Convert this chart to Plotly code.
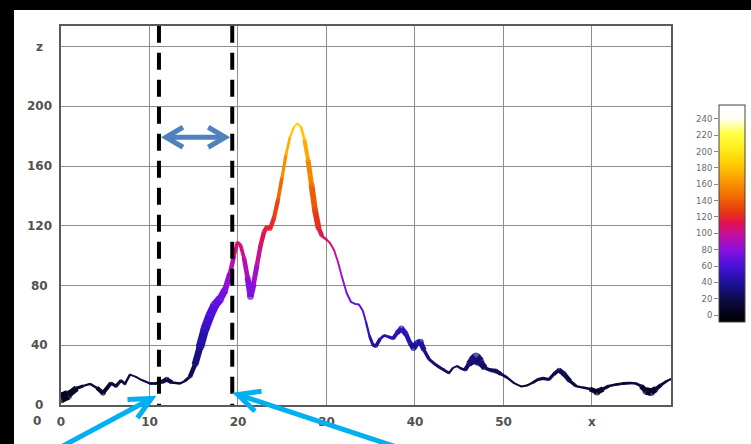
import math
import plotly.graph_objects as go

# ---------------- ribbon profile (x, height z, ribbon thickness in z units) ----------------
x_pos = [
    0.00, 0.79, 1.77, 2.49, 3.28, 4.07, 4.75, 5.65, 6.21, 6.78,
    7.23, 7.80, 8.47, 9.12, 10.06, 10.73, 11.38, 11.94, 12.54, 13.45,
    14.01, 14.58, 15.14, 15.71, 16.27, 16.84, 17.40, 17.97, 18.53, 19.10,
    19.55, 19.94, 20.28, 20.68, 21.07, 21.41, 21.75, 22.15, 22.54, 22.94,
    23.28, 23.62, 24.07, 24.52, 24.97, 25.42, 25.88, 26.33, 26.72, 27.12,
    27.51, 27.91, 28.31, 28.70, 29.10, 29.49, 30.06, 30.40, 30.85, 31.30,
    31.75, 32.28, 32.77, 33.22, 33.67, 34.12, 34.46, 34.86, 35.25, 35.59,
    36.05, 36.50, 37.06, 37.51, 37.97, 38.47, 38.98, 39.44, 39.83, 40.23,
    40.62, 41.02, 41.58, 42.15, 42.71, 43.28, 43.84, 44.29, 44.75, 45.20,
    45.65, 46.10, 46.44, 46.89, 47.34, 47.91, 48.47, 49.15, 49.72, 50.40,
    51.19, 51.98, 52.66, 53.33, 53.90, 54.46, 55.14, 55.71, 56.27, 56.84,
    57.51, 58.19, 58.98, 59.77, 60.56, 61.24, 61.92, 62.71, 63.50, 64.29,
    64.97, 65.54, 66.10, 66.67, 67.23, 67.80, 68.47, 68.93,
]
z_val = [
    4.8, 6.7, 11.2, 12.7, 14.1, 11.4, 8.0, 14.7, 12.7, 16.4,
    14.1, 20.4, 18.8, 16.7, 14.4, 14.4, 15.4, 17.1, 15.1, 14.4,
    16.1, 19.0, 27.0, 39.0, 51.0, 60.0, 67.0, 71.0, 77.0, 88.0,
    100.0, 108.8, 107.2, 98.5, 85.7, 72.5, 81.0, 93.8, 106.5, 115.9,
    119.2, 117.9, 125.3, 137.3, 152.1, 167.5, 179.5, 186.2, 188.6, 186.2,
    177.5, 164.1, 147.4, 130.6, 118.6, 113.2, 110.5, 108.5, 103.8, 95.8,
    85.7, 75.0, 69.0, 67.7, 67.3, 63.0, 55.6, 46.2, 40.2, 39.5,
    44.2, 46.6, 45.5, 44.5, 48.2, 51.2, 47.6, 41.5, 38.2, 41.5,
    42.2, 36.8, 30.8, 27.8, 25.5, 23.4, 21.4, 24.8, 26.1, 24.4,
    23.4, 27.5, 29.5, 31.5, 28.8, 24.8, 23.4, 22.8, 20.8, 18.4,
    14.7, 12.4, 13.1, 15.1, 17.1, 17.8, 17.1, 20.8, 23.4, 20.8,
    16.1, 12.7, 11.7, 10.7, 8.7, 10.7, 12.7, 13.7, 14.4, 14.7,
    14.4, 12.7, 9.4, 8.7, 10.7, 13.4, 16.1, 17.4,
]
band = [
    7.4, 6.0, 2.7, 1.7, 1.3, 2.0, 3.7, 1.7, 2.7, 1.7,
    2.0, 1.3, 1.3, 1.3, 1.7, 2.0, 2.3, 3.7, 2.0, 1.3,
    1.7, 2.3, 3.7, 5.4, 6.0, 6.0, 6.0, 5.4, 4.4, 3.4,
    2.7, 2.3, 2.3, 2.7, 3.4, 4.4, 3.7, 3.0, 3.0, 3.0,
    3.0, 3.0, 3.0, 2.7, 2.3, 2.0, 1.7, 1.3, 1.3, 1.3,
    2.3, 3.0, 3.7, 4.0, 3.7, 2.3, 1.3, 1.3, 1.3, 1.3,
    1.3, 1.3, 1.3, 1.3, 1.3, 1.3, 1.3, 1.7, 2.3, 2.7,
    2.0, 1.7, 2.0, 2.3, 3.0, 4.0, 3.4, 2.7, 4.0, 4.0,
    4.4, 2.7, 2.0, 2.0, 2.0, 2.0, 1.7, 1.3, 1.3, 1.7,
    2.0, 3.7, 5.4, 7.4, 6.0, 2.7, 2.0, 3.4, 2.0, 1.7,
    1.3, 1.3, 1.3, 1.7, 2.0, 2.3, 2.0, 2.3, 3.0, 3.7,
    2.7, 1.7, 1.3, 2.0, 4.7, 2.7, 1.7, 1.7, 2.0, 1.7,
    1.7, 2.3, 4.7, 5.4, 3.4, 2.0, 1.7, 1.3,
]

# window boundaries and the level of the span arrow
guide_x = [11.07, 19.35]
span_z = 179.3

# axis ticks
x_ticks = [0, 10, 20, 30, 40, 50, 60]
x_tick_text = ["0", "10", "20", "30", "40", "50", "x"]
z_ticks = [0, 40, 80, 120, 160, 200, 240]
z_tick_text = ["0", "40", "80", "120", "160", "200", "z"]
cbar_ticks = [0, 20, 40, 60, 80, 100, 120, 140, 160, 180, 200, 220, 240]

# palette: value -> colour
pal_vals = [-8.5, 0, 20, 40, 60, 80, 100, 112, 125, 145, 165, 185, 205, 222, 240, 257]
pal_cols = ["#000000", "#030210", "#0e0b4c", "#1d129c", "#4a10dc", "#8a10e0",
            "#c8109a", "#e01052", "#e83416", "#f26a00", "#fa9c00", "#ffcc00",
            "#ffee20", "#ffff44", "#fffff2", "#ffffff"]

# ---------------- layout geometry (pixels) ----------------
W, H = 751, 444
PLOT_L, PLOT_R, PLOT_T, PLOT_B = 61, 671, 25.7, 405
X_RANGE = [0, 68.93]
Z_RANGE = [0, 254]
CB_L, CB_W, CB_T, CB_B = 719, 26, 105, 322

px_per_x = (PLOT_R - PLOT_L) / (X_RANGE[1] - X_RANGE[0])
px_per_z = (PLOT_B - PLOT_T) / (Z_RANGE[1] - Z_RANGE[0])


def to_px(x, z):
    return (PLOT_L + (x - X_RANGE[0]) * px_per_x,
            PLOT_B - (z - Z_RANGE[0]) * px_per_z)


def pp(px, py):
    """pixel -> paper fraction (margins are zero, so paper == figure)"""
    return px / W, 1 - py / H


def hex_rgb(h):
    h = h.lstrip("#")
    return tuple(int(h[i:i + 2], 16) for i in (0, 2, 4))


def color_at(v):
    v = min(max(v, pal_vals[0]), pal_vals[-1])
    for i in range(len(pal_vals) - 1):
        if v <= pal_vals[i + 1]:
            t = (v - pal_vals[i]) / (pal_vals[i + 1] - pal_vals[i])
            a, b = hex_rgb(pal_cols[i]), hex_rgb(pal_cols[i + 1])
            c = [round(a[k] + (b[k] - a[k]) * t) for k in range(3)]
            return f"rgb({c[0]},{c[1]},{c[2]})"
    return pal_cols[-1]


span = pal_vals[-1] - pal_vals[0]
colorscale = [[(v - pal_vals[0]) / span, c] for v, c in zip(pal_vals, pal_cols)]

fig = go.Figure()

# ribbon: one segment per pair of neighbouring samples, coloured by height
for i in range(len(x_pos) - 1):
    zm = 0.5 * (z_val[i] + z_val[i + 1])
    wm = 0.5 * (band[i] + band[i + 1]) * px_per_z
    fig.add_trace(go.Scatter(
        x=[x_pos[i], x_pos[i + 1]], y=[z_val[i], z_val[i + 1]],
        mode="lines", line=dict(color=color_at(zm), width=wm),
        hoverinfo="skip", showlegend=False))

# round joints at the samples; this trace also carries the colour bar
fig.add_trace(go.Scatter(
    x=x_pos, y=z_val, mode="markers", showlegend=False, hoverinfo="skip",
    marker=dict(
        size=[b * px_per_z for b in band], color=z_val,
        colorscale=colorscale, cmin=pal_vals[0], cmax=pal_vals[-1],
        line=dict(width=0),
        colorbar=dict(
            x=CB_L / W, xanchor="left", y=1 - CB_T / H, yanchor="top",
            len=CB_B - CB_T, lenmode="pixels", thickness=CB_W,
            thicknessmode="pixels", xpad=0, ypad=0,
            outlinewidth=1, outlinecolor="#444",
            showticklabels=False, ticks=""))))

# holder for the colour-bar scale axis
fig.add_trace(go.Scatter(x=[], y=[], xaxis="x2", yaxis="y2",
                         showlegend=False, hoverinfo="skip"))

lab_font = dict(family="DejaVu Sans", size=12, color="#525252", weight="bold")

shapes = [
    # white card on black
    dict(type="rect", xref="paper", yref="paper", x0=14 / W, x1=1.02,
         y0=-0.02, y1=1 - 10 / H, fillcolor="white",
         line=dict(width=0), layer="below"),
]

# dashed window boundaries
for gx in guide_x:
    shapes.append(dict(type="line", xref="x", yref="y", x0=gx, x1=gx,
                       y0=Z_RANGE[1], y1=0,
                       line=dict(color="black", width=4, dash="17px,10px"),
                       layer="above"))


def path(points):
    s = ""
    for k, (a, b) in enumerate(points):
        fxp, fyp = pp(a, b)
        s += ("M" if k == 0 else "L") + f"{fxp:.5f},{fyp:.5f} "
    return s.strip()


# double-headed span arrow between the two boundaries
SPAN_BLUE = "#4f81bd"
lx, ly = to_px(guide_x[0], span_z)
rx, _ = to_px(guide_x[1], span_z)
lx += 7
rx -= 7
shapes.append(dict(type="path", xref="paper", yref="paper",
                   path=path([(lx, ly), (rx, ly)]),
                   line=dict(color=SPAN_BLUE, width=5), layer="above"))
shapes.append(dict(type="path", xref="paper", yref="paper",
                   path=path([(lx + 17, ly - 10), (lx, ly), (lx + 17, ly + 10)]),
                   line=dict(color=SPAN_BLUE, width=5), layer="above"))
shapes.append(dict(type="path", xref="paper", yref="paper",
                   path=path([(rx - 17, ly - 10), (rx, ly), (rx - 17, ly + 10)]),
                   line=dict(color=SPAN_BLUE, width=5), layer="above"))

# pointer arrows to the foot of each boundary
POINT_BLUE = "#00b0f0"
pointers = [
    # (boundary index, vertex offset dx, dy in px, tail direction in degrees)
    (0, -7.5, -6.5, 151.8),
    (1, 5.5, -10.5, 18.3),
]
for idx, dx, dy, ang in pointers:
    bx, by = to_px(guide_x[idx], 0)
    vx, vy = bx + dx, by + dy
    ux, uy = math.cos(math.radians(ang)), math.sin(math.radians(ang))
    tail = (vx + ux * 200, vy + uy * 200)
    arms = []
    for s in (26, -26):
        a = math.radians(ang + s)
        arms.append((vx + 24 * math.cos(a), vy + 24 * math.sin(a)))
    shapes.append(dict(type="path", xref="paper", yref="paper",
                       path=path([tail, (vx, vy)]),
                       line=dict(color=POINT_BLUE, width=5), layer="above"))
    shapes.append(dict(type="path", xref="paper", yref="paper",
                       path=path([arms[0], (vx, vy), arms[1]]),
                       line=dict(color=POINT_BLUE, width=5), layer="above"))

annotations = []
for v, t in zip(z_ticks, z_tick_text):
    annotations.append(dict(x=39 / W, xref="paper", y=v, yref="y", text=t,
                            showarrow=False, xanchor="center", yanchor="middle",
                            font=lab_font))
annotations.append(dict(x=37 / W, xref="paper", y=1 - 421 / H, yref="paper",
                        text="0", showarrow=False, xanchor="center",
                        yanchor="middle", font=lab_font))

fig.update_layout(
    width=W, height=H,
    margin=dict(l=0, r=0, t=0, b=0, pad=0, autoexpand=False),
    paper_bgcolor="black", plot_bgcolor="rgba(0,0,0,0)",
    showlegend=False,
    xaxis=dict(domain=[PLOT_L / W, PLOT_R / W], range=X_RANGE,
               tickmode="array", tickvals=x_ticks, ticktext=x_tick_text,
               ticks="", ticklabelstandoff=5, tickfont=lab_font,
               showgrid=True, gridcolor="#8d8d8d", gridwidth=1,
               showline=True, mirror=True, linecolor="#5a5a5a", linewidth=1.5,
               zeroline=False, fixedrange=True),
    yaxis=dict(domain=[1 - PLOT_B / H, 1 - PLOT_T / H], range=Z_RANGE,
               tickmode="array", tickvals=z_ticks, showticklabels=False,
               ticks="", showgrid=True, gridcolor="#8d8d8d", gridwidth=1,
               showline=True, mirror=True, linecolor="#5a5a5a", linewidth=1.5,
               zeroline=False, fixedrange=True),
    xaxis2=dict(domain=[CB_L / W, (CB_L + 1) / W], range=[0, 1], visible=False,
                anchor="y2", fixedrange=True),
    yaxis2=dict(domain=[1 - CB_B / H, 1 - CB_T / H],
                range=[pal_vals[0], pal_vals[-1]], anchor="x2", side="left",
                tickmode="array", tickvals=cbar_ticks, ticks="outside",
                ticklen=4, tickcolor="#888", showgrid=False, zeroline=False,
                showline=False, fixedrange=True,
                tickfont=dict(family="DejaVu Sans", size=8.5, color="#6a6a6a")),
    shapes=shapes,
    annotations=annotations,
)

fig.write_html("out.html")
